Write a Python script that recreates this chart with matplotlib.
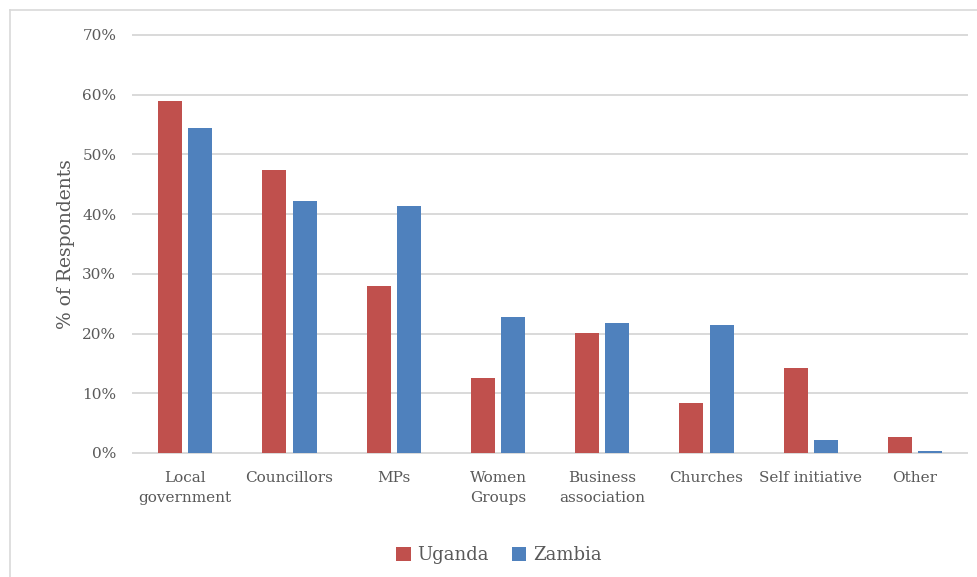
import numpy as np
import matplotlib
matplotlib.use('Agg')
import matplotlib.pyplot as plt
from matplotlib.lines import Line2D
from matplotlib.ticker import PercentFormatter

categories = ['Local\ngovernment', 'Councillors', 'MPs', 'Women\nGroups',
              'Business\nassociation', 'Churches', 'Self initiative', 'Other']
uganda = [59.0, 47.4, 28.0, 12.6, 20.1, 8.4, 14.2, 2.7]
zambia = [54.4, 42.2, 41.4, 22.8, 21.8, 21.4, 2.2, 0.4]

red = '#C0504D'
blue = '#4F81BD'
grey = '#595959'

plt.rcParams['font.family'] = ['DejaVu Serif']

f = plt.figure(figsize=(9.78, 5.77), dpi=100)
ax = f.add_axes([0.136, 0.215, 0.853, 0.7245])

x = np.arange(len(categories))
w = 0.23
ax.bar(x - 0.145, np.array(uganda) / 100, w, color=red, label='Uganda', zorder=3)
ax.bar(x + 0.145, np.array(zambia) / 100, w, color=blue, label='Zambia', zorder=3)

ax.set_xlim(-0.5, len(categories) - 0.5)
ax.set_ylim(0, 0.70)
ax.set_yticks(np.arange(0, 0.71, 0.10))
ax.yaxis.set_major_formatter(PercentFormatter(1.0, decimals=0))
ax.set_xticks(x)
ax.set_xticklabels(categories, fontsize=11, color=grey, linespacing=1.5)
ax.tick_params(axis='y', length=0, pad=12, labelsize=11, labelcolor=grey)
ax.tick_params(axis='x', length=0, pad=13)

ax.grid(axis='y', color='#D9D9D9', lw=1.4, zorder=0)
for gl in ax.get_ygridlines():
    gl.set_clip_on(False)
for s in ax.spines.values():
    s.set_visible(False)

ax.set_ylabel('% of Respondents', fontsize=13.5, color=grey, labelpad=5)

f.legend(loc='center', bbox_to_anchor=(0.51, 0.038), ncol=2, frameon=False,
         fontsize=13, labelcolor=grey, handlelength=0.8, handleheight=0.8,
         handletextpad=0.35, columnspacing=1.3)

# outer chart border (left and top only visible)
f.add_artist(Line2D([9.5 / 978, 9.5 / 978], [0, 1 - 10 / 577], color='#D9D9D9', lw=1.2,
                    transform=f.transFigure))
f.add_artist(Line2D([9.5 / 978, 1], [1 - 10 / 577, 1 - 10 / 577], color='#D9D9D9', lw=1.2,
                    transform=f.transFigure))

plt.savefig('out.png', dpi=100)
plt.close()
